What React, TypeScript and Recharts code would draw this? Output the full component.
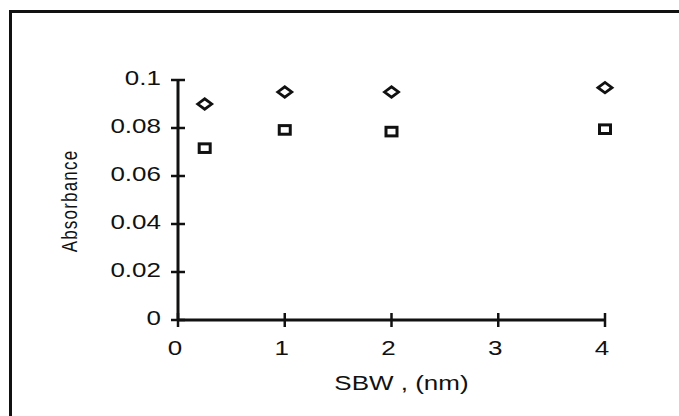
import { ScatterChart, Scatter, XAxis, YAxis } from 'recharts';

// spectral bandwidth (nm) and the two absorbance series
const sbw = [0.25, 1, 2, 4];
const absorbanceDiamond = [0.09, 0.095, 0.095, 0.0968];
const absorbanceSquare = [0.0716, 0.0792, 0.0785, 0.0795];

const xTicks = [0, 1, 2, 3, 4];
const xTickLabels = ['0', '1', '2', '3', '4'];
const yTicks = [0, 0.02, 0.04, 0.06, 0.08, 0.1];
const yTickLabels = ['0', '0.02', '0.04', '0.06', '0.08', '0.1'];

const FONT = '"Liberation Sans", Arial, Helvetica, sans-serif';
const INK = '#111';

const diamondData = sbw.map((x, i) => ({ x, y: absorbanceDiamond[i] }));
const squareData = sbw.map((x, i) => ({ x, y: absorbanceSquare[i] }));

const DiamondMark = ({ cx, cy }: any) => (
  <path
    d={`M${cx - 7},${cy} L${cx},${cy - 5.2} L${cx + 7},${cy} L${cx},${cy + 5.2} Z`}
    fill="none"
    stroke={INK}
    strokeWidth={2.8}
  />
);

const SquareMark = ({ cx, cy }: any) => (
  <rect x={cx - 5.5} y={cy - 4.3} width={11} height={8.6} fill="none" stroke={INK} strokeWidth={3} />
);

const YTick = ({ x, y, payload }: any) => {
  const label = yTickLabels[yTicks.indexOf(payload.value)] ?? String(payload.value);
  return (
    <g>
      <line x1={x + 10} x2={x + 24} y1={y} y2={y} stroke={INK} strokeWidth={2.5} />
      <text
        transform={`translate(${x},${y + 5}) scale(1.3,1)`}
        textAnchor="end"
        fontSize={20}
        fontFamily={FONT}
        fill={INK}
      >
        {label}
      </text>
    </g>
  );
};

const XTick = ({ x, y, payload }: any) => {
  const label = xTickLabels[xTicks.indexOf(payload.value)] ?? String(payload.value);
  return (
    <g>
      <line x1={x} x2={x} y1={y - 22} y2={y - 8} stroke={INK} strokeWidth={2.5} />
      <text
        transform={`translate(${x - 3},${y + 20}) scale(1.3,1)`}
        textAnchor="middle"
        fontSize={20}
        fontFamily={FONT}
        fill={INK}
      >
        {label}
      </text>
    </g>
  );
};

const XTitle = ({ viewBox }: any) => {
  const cx = viewBox.x + viewBox.width / 2 + 10;
  return (
    <text
      transform={`translate(${cx},${viewBox.y + 70}) scale(1.3,1)`}
      textAnchor="middle"
      fontSize={20}
      fontFamily={FONT}
      fill={INK}
    >
      SBW , (nm)
    </text>
  );
};

const YTitle = ({ viewBox }: any) => {
  const cy = viewBox.y + viewBox.height / 2 + 1;
  return (
    <text
      transform={`translate(${viewBox.x + 19},${cy}) rotate(-90) scale(1,1.3)`}
      textAnchor="middle"
      fontSize={17}
      letterSpacing={1.2}
      fontFamily={FONT}
      fill={INK}
    >
      Absorbance
    </text>
  );
};

export default function App() {
  return (
    <div style={{ position: 'absolute', left: 0, top: 0, width: 679, height: 416, background: '#fff', overflow: 'hidden' }}>
      <div
        style={{
          position: 'absolute',
          left: 9,
          top: 10,
          right: 0,
          bottom: 0,
          borderTop: `3px solid ${INK}`,
          borderLeft: `3px solid ${INK}`,
        }}
      />
      <div style={{ position: 'absolute', left: 0, top: 0 }}>
        <ScatterChart width={679} height={416} margin={{ top: 80, right: 74, bottom: 16, left: 58 }}>
          <XAxis
            type="number"
            dataKey="x"
            domain={[0, 4]}
            ticks={xTicks}
            interval={0}
            height={80}
            tickSize={7}
            tickMargin={8}
            tickLine={false}
            axisLine={{ stroke: INK, strokeWidth: 3 }}
            tick={<XTick />}
            label={<XTitle />}
          />
          <YAxis
            type="number"
            dataKey="y"
            domain={[0, 0.1]}
            ticks={yTicks}
            interval={0}
            width={120}
            tickSize={7}
            tickMargin={10}
            tickLine={false}
            axisLine={{ stroke: INK, strokeWidth: 3 }}
            tick={<YTick />}
            label={<YTitle />}
          />
          <Scatter data={diamondData} shape={<DiamondMark />} isAnimationActive={false} />
          <Scatter data={squareData} shape={<SquareMark />} isAnimationActive={false} />
        </ScatterChart>
      </div>
    </div>
  );
}
